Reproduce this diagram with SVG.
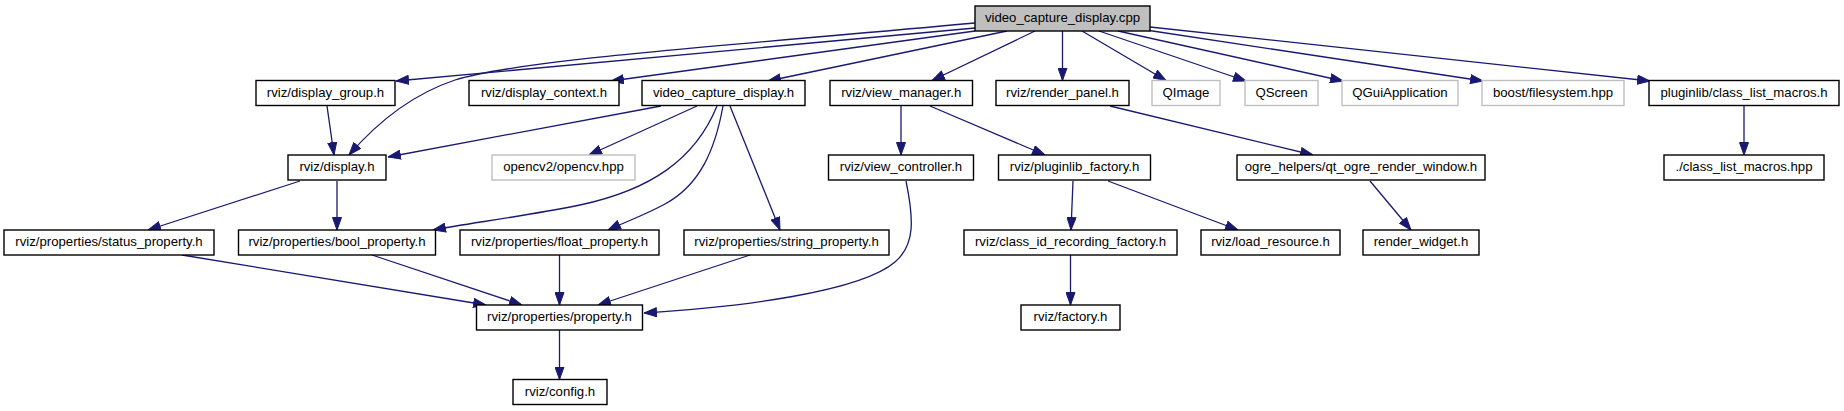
<svg xmlns="http://www.w3.org/2000/svg" width="1844" height="411" viewBox="0 0 1844 411">
<style>
.n rect{fill:#fff;stroke:#000;stroke-width:1.4}
.g rect{fill:#fff;stroke:#bfbfbf;stroke-width:1.4}
.root rect{fill:#bfbfbf;stroke:#000;stroke-width:1.4}
text{font-family:"Liberation Sans",Arial,Helvetica,sans-serif;font-size:13.2px;fill:#000;text-anchor:middle}
.e path{fill:none;stroke:#191970;stroke-width:1.3;marker-end:url(#ah)}
</style>
<defs>
<marker id="ah" markerUnits="userSpaceOnUse" markerWidth="13" markerHeight="10" viewBox="0 0 13 10" refX="13" refY="5" orient="auto">
<path d="M0.5,0.5 L13,5 L0.5,9.5 z" fill="#191970" stroke="#191970" stroke-width="1"/>
</marker>
</defs>
<rect width="1844" height="411" fill="#fff"/>
<g class="e" id="edges">
<path d="M975,23 C700,48 520,60 455,80 C410,95 375,125 349,155"/>
<path d="M975,28 L396,81"/>
<path d="M975,31 L611,81"/>
<path d="M1007,31 L768,81"/>
<path d="M1035,31 L932,80.5"/>
<path d="M1062.5,31 L1062.5,80.5"/>
<path d="M1082,31 L1166,80.5"/>
<path d="M1099,31 L1246,81"/>
<path d="M1118,31 L1343,81"/>
<path d="M1146,30 L1483,81"/>
<path d="M1150,27 L1650,81"/>
<path d="M327,106 L334,155"/>
<path d="M661,106 L388,157"/>
<path d="M697,106 L589,155"/>
<path d="M717,106 C695,160 650,190 580,205 C520,217 470,223 433,230"/>
<path d="M723,106 C715,150 700,185 665,204 C645,215 625,222 608,230"/>
<path d="M730,106 L780,230"/>
<path d="M901,106 L901,155"/>
<path d="M930,106 L1045,155"/>
<path d="M1110,106 L1313,155"/>
<path d="M1744,106 L1744,155"/>
<path d="M300,181 L148,230"/>
<path d="M337,181 L337,230"/>
<path d="M906,181 C914,220 915,245 895,262 C860,292 740,307 644,313"/>
<path d="M1073,181 L1071,230"/>
<path d="M1108,181 L1238,230"/>
<path d="M1370,181 L1411,230"/>
<path d="M182,255 L486,305"/>
<path d="M372,255 L522,305"/>
<path d="M559.5,255 L559.5,305"/>
<path d="M750,255 L598,305"/>
<path d="M1070.5,255 L1070.5,305"/>
<path d="M559.5,330 L559.5,379.5"/>
</g>
<g id="n_cpp" class="root"><rect x="975" y="6" width="175" height="25"/><text x="1062.5" y="22">video_capture_display.cpp</text></g>
<g id="n_display_group" class="n"><rect x="256" y="80.5" width="139" height="25"/><text x="325.5" y="96.5">rviz/display_group.h</text></g>
<g id="n_display_context" class="n"><rect x="469" y="80.5" width="150" height="25"/><text x="544" y="96.5">rviz/display_context.h</text></g>
<g id="n_vcd_h" class="n"><rect x="642" y="80.5" width="163" height="25"/><text x="723.5" y="96.5">video_capture_display.h</text></g>
<g id="n_view_manager" class="n"><rect x="830" y="80.5" width="142.5" height="25"/><text x="901.25" y="96.5">rviz/view_manager.h</text></g>
<g id="n_render_panel" class="n"><rect x="996" y="80.5" width="133" height="25"/><text x="1062.5" y="96.5">rviz/render_panel.h</text></g>
<g id="n_qimage" class="g"><rect x="1152" y="80.5" width="68" height="25"/><text x="1186" y="96.5">QImage</text></g>
<g id="n_qscreen" class="g"><rect x="1245" y="80.5" width="73" height="25"/><text x="1281.5" y="96.5">QScreen</text></g>
<g id="n_qguiapp" class="g"><rect x="1342" y="80.5" width="116" height="25"/><text x="1400" y="96.5">QGuiApplication</text></g>
<g id="n_boost_fs" class="g"><rect x="1482" y="80.5" width="142" height="25"/><text x="1553" y="96.5">boost/filesystem.hpp</text></g>
<g id="n_pl_clm" class="n"><rect x="1649" y="80.5" width="190" height="25"/><text x="1744" y="96.5">pluginlib/class_list_macros.h</text></g>
<g id="n_display" class="n"><rect x="288" y="155" width="98" height="25"/><text x="337" y="171">rviz/display.h</text></g>
<g id="n_opencv" class="g"><rect x="492" y="155" width="143" height="25"/><text x="563.5" y="171">opencv2/opencv.hpp</text></g>
<g id="n_view_controller" class="n"><rect x="828.5" y="155" width="145" height="25"/><text x="901" y="171">rviz/view_controller.h</text></g>
<g id="n_pluginlib_factory" class="n"><rect x="998.5" y="155" width="152" height="25"/><text x="1074.5" y="171">rviz/pluginlib_factory.h</text></g>
<g id="n_ogre_rw" class="n"><rect x="1237" y="155" width="248" height="25"/><text x="1361" y="171">ogre_helpers/qt_ogre_render_window.h</text></g>
<g id="n_clm_hpp" class="n"><rect x="1664" y="155" width="160" height="25"/><text x="1744" y="171">./class_list_macros.hpp</text></g>
<g id="n_status_prop" class="n"><rect x="4" y="230" width="210" height="25"/><text x="109" y="246">rviz/properties/status_property.h</text></g>
<g id="n_bool_prop" class="n"><rect x="238.5" y="230" width="197" height="25"/><text x="337" y="246">rviz/properties/bool_property.h</text></g>
<g id="n_float_prop" class="n"><rect x="460" y="230" width="199" height="25"/><text x="559.5" y="246">rviz/properties/float_property.h</text></g>
<g id="n_string_prop" class="n"><rect x="684" y="230" width="205" height="25"/><text x="786.5" y="246">rviz/properties/string_property.h</text></g>
<g id="n_class_id_rf" class="n"><rect x="964" y="230" width="213" height="25"/><text x="1070.5" y="246">rviz/class_id_recording_factory.h</text></g>
<g id="n_load_resource" class="n"><rect x="1201" y="230" width="139" height="25"/><text x="1270.5" y="246">rviz/load_resource.h</text></g>
<g id="n_render_widget" class="n"><rect x="1363" y="230" width="116" height="25"/><text x="1421" y="246">render_widget.h</text></g>
<g id="n_property" class="n"><rect x="476.5" y="305" width="166" height="25"/><text x="559.5" y="321">rviz/properties/property.h</text></g>
<g id="n_factory" class="n"><rect x="1021" y="305" width="99" height="25"/><text x="1070.5" y="321">rviz/factory.h</text></g>
<g id="n_config" class="n"><rect x="513" y="379.5" width="94" height="25"/><text x="560" y="395.5">rviz/config.h</text></g>
</svg>
